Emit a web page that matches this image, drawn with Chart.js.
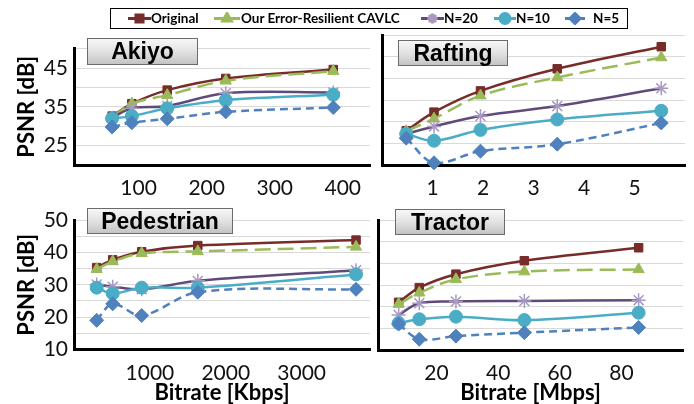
<!DOCTYPE html>
<html>
<head>
<meta charset="utf-8">
<script src="https://cdn.jsdelivr.net/npm/chart.js@4"></script>
<style>
  html, body { margin: 0; padding: 0; background: #fff; overflow: hidden; }
  #wrap { position: relative; width: 694px; height: 404px; overflow: hidden; }
  canvas.plot { position: absolute; }
  .tag {
    position: absolute; box-sizing: border-box;
    border: 1px solid #6b6b6b;
    background: linear-gradient(#f7f7f7, #e2e2e2 50%, #c4c4c4);
    font: bold 23px "Liberation Sans", Arial, sans-serif;
    color: #000; text-align: center; line-height: 24px;
  }
  #legend {
    position: absolute; left: 110px; top: 8px; width: 518px; height: 21px;
    box-sizing: border-box; border: 1.5px solid #000; background: #fff;
  }
  .item { position: absolute; top: 0; height: 18px; font: bold 13.5px Lato, sans-serif; line-height: 18px; white-space: nowrap; }
  .item canvas { position: absolute; top: 3px; }
  .item span { position: absolute; top: 0; }
</style>
</head>
<body>
<div id="wrap">
  <canvas class="plot" id="akiyo" width="375" height="175" style="left:0;top:30px"></canvas>
  <canvas class="plot" id="rafting" width="319" height="175" style="left:375px;top:30px"></canvas>
  <canvas class="plot" id="pedestrian" width="375" height="206" style="left:0;top:200px"></canvas>
  <canvas class="plot" id="tractor" width="319" height="206" style="left:375px;top:200px"></canvas>

  <div class="tag" style="left:87px;top:38px;width:111px;height:27px">Akiyo</div>
  <div class="tag" style="left:398px;top:40px;width:110px;height:26px">Rafting</div>
  <div class="tag" style="left:87px;top:208px;width:146px;height:26px">Pedestrian</div>
  <div class="tag" style="left:395px;top:209px;width:110px;height:26px">Tractor</div>

  <div id="legend"></div>
</div>

<script>
// series names
const seriesNames = ['Original', 'Our Error-Resilient CAVLC', 'N=20', 'N=10', 'N=5'];

// Akiyo, bitrate in Kbps
const akiyoRate = [61, 90, 142, 228, 386];
const akiyoOriginal = [32.6, 35.8, 39.3, 42.3, 44.6];
const akiyoOurs = [32.2, 35.8, 38.0, 41.7, 44.2];
const akiyoN20 = [32.2, 34.6, 35.2, 38.5, 38.7];
const akiyoN10 = [32.0, 32.6, 34.6, 36.7, 38.1];
const akiyoN5 = [29.8, 30.9, 31.9, 33.7, 34.8];

// Rafting, bitrate in Mbps
const raftingRate = [0.48, 1.03, 1.95, 3.47, 5.53];
const raftingOriginal = [27.9, 32.2, 37.1, 42.2, 47.3];
const raftingOurs = [27.8, 30.7, 36.0, 40.2, 44.8];
const raftingN20 = [27.2, 28.9, 31.3, 33.6, 37.7];
const raftingN10 = [27.2, 25.6, 28.1, 30.5, 32.5];
const raftingN5 = [26.2, 20.5, 23.2, 24.8, 29.7];

// Pedestrian, bitrate in Kbps
const pedestrianRate = [299, 510, 892, 1631, 3716];
const pedestrianOriginal = [35.3, 37.7, 40.2, 42.1, 43.8];
const pedestrianOurs = [34.8, 37.2, 39.7, 40.3, 41.7];
const pedestrianN20 = [30.1, 29.4, 28.6, 31.2, 34.5];
const pedestrianN10 = [29.1, 27.3, 29.1, 29.1, 33.2];
const pedestrianN5 = [19.0, 24.1, 20.5, 27.7, 28.6];

// Tractor, bitrate in Mbps
const tractorRate = [7.7, 14.4, 26.3, 48.5, 85.6];
const tractorOriginal = [21.0, 24.4, 27.5, 30.6, 33.6];
const tractorOurs = [20.6, 23.2, 26.3, 28.1, 28.6];
const tractorN20 = [18.1, 20.8, 21.2, 21.3, 21.5];
const tractorN10 = [16.2, 17.1, 17.7, 16.9, 18.6];
const tractorN5 = [16.0, 12.5, 13.2, 14.0, 15.2];

// tick labels
const akiyoXTicks = [100, 200, 300, 400];
const raftingXTicks = [1, 2, 3, 4, 5];
const pedestrianXTicks = [1000, 2000, 3000];
const tractorXTicks = [20, 40, 60, 80];
const topYLabels = [25, 35, 45];
const bottomYLabels = [10, 20, 30, 40, 50];

// look of each series
const styles = [
    { color: '#772C2A', point: 'rect', radius: 6, pointColor: '#772C2A', dash: [], order: 5 },
    { color: '#9BBB59', point: 'triangle', radius: 6.5, pointColor: '#9BBB59', dash: [16, 7], order: 4 },
    { color: '#604A7B', point: 'star', radius: 7, pointColor: '#A898C2', dash: [], order: 3 },
    { color: '#4BACC6', point: 'circle', radius: 6.5, pointColor: '#4BACC6', dash: [], order: 2 },
    { color: '#4F81BD', point: 'rectRot', radius: 7, pointColor: '#4F81BD', dash: [8, 5], order: 1 }
];

const tickFont = { family: 'Lato', size: 21 };
const titleFont = { family: 'Lato', size: 22, weight: 'bold' };

function makeDatasets(rates, seriesList) {
    return seriesList.map(function(values, i) {
        const s = styles[i];
        return {
            label: seriesNames[i],
            data: values.map(function(v, k) { return { x: rates[k], y: v }; }),
            borderColor: s.color,
            backgroundColor: s.pointColor,
            borderWidth: 2.5,
            borderDash: s.dash,
            pointStyle: s.point,
            pointRadius: s.radius,
            pointBackgroundColor: s.pointColor,
            pointBorderColor: s.pointColor,
            pointBorderWidth: s.point === 'star' ? 1.5 : 1,
            tension: 0.35,
            order: s.order,
            clip: false
        };
    });
}

function makeChart(id, cfg) {
    const ctx = document.getElementById(id).getContext('2d');
    return new Chart(ctx, {
        type: 'line',
        data: { datasets: makeDatasets(cfg.rates, cfg.series) },
        options: {
            responsive: false,
            animation: false,
            devicePixelRatio: 1,
            layout: { autoPadding: false, padding: cfg.padding },
            plugins: { legend: { display: false }, tooltip: { enabled: false } },
            scales: {
                x: {
                    type: 'linear',
                    min: cfg.xMin,
                    max: cfg.xMax,
                    grid: { display: false, drawTicks: false },
                    border: { display: true, color: '#000', width: 3 },
                    afterBuildTicks: function(scale) {
                        scale.ticks = cfg.xTicks.map(function(v) { return { value: v }; });
                    },
                    afterFit: function(scale) { scale.height = cfg.xHeight; },
                    ticks: {
                        font: tickFont, color: '#111', padding: 11, maxRotation: 0, autoSkip: false,
                        callback: function(v) { return String(v); }
                    },
                    title: {
                        display: !!cfg.xTitle,
                        text: cfg.xTitle || '',
                        font: titleFont,
                        color: '#000',
                        padding: { top: 0, bottom: 0 }
                    }
                },
                y: {
                    min: cfg.yMin,
                    max: cfg.yMax,
                    grid: { color: '#D9D9D9', lineWidth: 1, drawTicks: false },
                    border: { display: true, color: '#000', width: 3 },
                    afterFit: function(scale) { scale.width = cfg.yWidth; },
                    ticks: {
                        stepSize: 5,
                        autoSkip: false,
                        font: tickFont,
                        color: '#111',
                        padding: 6,
                        display: cfg.yLabels.length > 0,
                        callback: function(v) { return cfg.yLabels.indexOf(v) >= 0 ? String(v) : ''; }
                    },
                    title: {
                        display: cfg.yLabels.length > 0,
                        text: 'PSNR [dB]',
                        font: titleFont,
                        color: '#000',
                        padding: { top: 14, bottom: 0 }
                    }
                }
            }
        }
    });
}

makeChart('akiyo', {
    rates: akiyoRate,
    series: [akiyoOriginal, akiyoOurs, akiyoN20, akiyoN10, akiyoN5],
    xMin: 5, xMax: 440, xTicks: akiyoXTicks,
    yMin: 20, yMax: 50, yLabels: topYLabels,
    padding: { top: 5, right: 5, left: 0, bottom: 0 },
    yWidth: 74, xHeight: 40
});

makeChart('rafting', {
    rates: raftingRate,
    series: [raftingOriginal, raftingOurs, raftingN20, raftingN10, raftingN5],
    xMin: 0, xMax: 6, xTicks: raftingXTicks,
    yMin: 20, yMax: 50, yLabels: [],
    padding: { top: 5, right: 9, left: 0, bottom: 0 },
    yWidth: 7, xHeight: 40
});

makeChart('pedestrian', {
    rates: pedestrianRate,
    series: [pedestrianOriginal, pedestrianOurs, pedestrianN20, pedestrianN10, pedestrianN5],
    xMin: 0, xMax: 3900, xTicks: pedestrianXTicks, xTitle: 'Bitrate [Kbps]',
    yMin: 10, yMax: 50, yLabels: bottomYLabels,
    padding: { top: 20, right: 5, left: 0, bottom: 0 },
    yWidth: 74, xHeight: 56.5
});

makeChart('tractor', {
    rates: tractorRate,
    series: [tractorOriginal, tractorOurs, tractorN20, tractorN10, tractorN5],
    xMin: 1, xMax: 100, xTicks: tractorXTicks, xTitle: 'Bitrate [Mbps]',
    yMin: 10, yMax: 40, yLabels: [],
    padding: { top: 20, right: 11, left: 0, bottom: 0 },
    yWidth: 3, xHeight: 56
});

// shared legend: line + marker drawn with Chart.js helpers, text as html
const legendSpots = [
    { line: 127, text: 150, width: 23 },
    { line: 213, text: 240, width: 26 },
    { line: 420, text: 443, width: 23 },
    { line: 493, text: 515, width: 22 },
    { line: 564, text: 592, width: 20 }
];
const legend = document.getElementById('legend');
legendSpots.forEach(function(spot, i) {
    const s = styles[i];
    const item = document.createElement('div');
    item.className = 'item';
    item.style.left = (spot.line - 110) + 'px';
    const c = document.createElement('canvas');
    c.width = spot.width; c.height = 13;
    c.style.left = '0px';
    const g = c.getContext('2d');
    g.strokeStyle = s.color;
    g.lineWidth = 3;
    g.beginPath(); g.moveTo(0, 6.5); g.lineTo(spot.width, 6.5); g.stroke();
    g.fillStyle = s.pointColor;
    g.strokeStyle = s.pointColor;
    Chart.helpers.drawPoint(g, { pointStyle: s.point, radius: 5, borderWidth: 1, rotation: 0 }, spot.width / 2, 6.5);
    item.appendChild(c);
    const t = document.createElement('span');
    t.textContent = seriesNames[i];
    t.style.left = (spot.text - spot.line) + 'px';
    item.appendChild(t);
    legend.appendChild(item);
});
</script>
</body>
</html>
